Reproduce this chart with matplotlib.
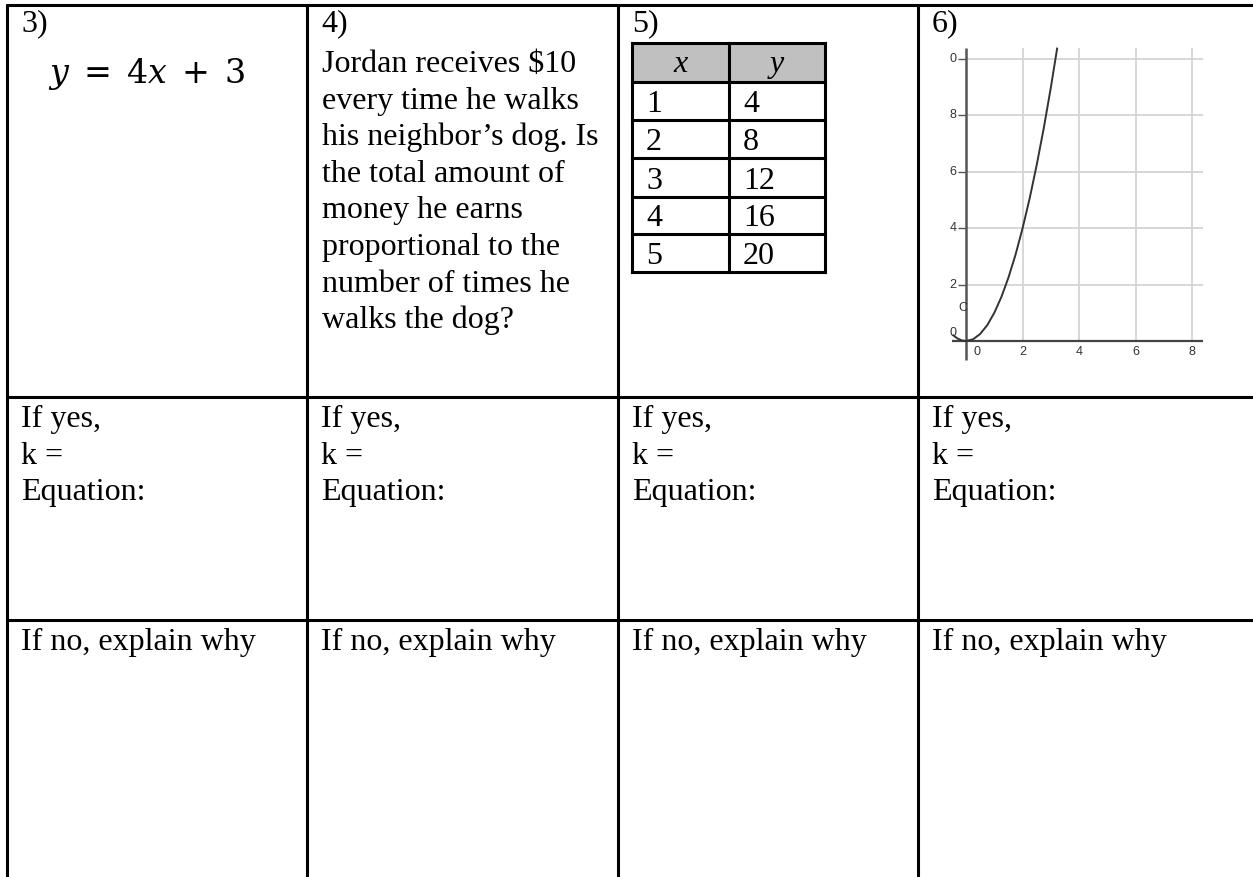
import matplotlib.pyplot as plt

plt.rcParams['font.family'] = ['Liberation Serif', 'DejaVu Serif']
plt.rcParams['mathtext.fontset'] = 'dejavuserif'

W, H = 1253, 877

# worksheet text
item_labels = ['3)', '4)', '5)', '6)']
equation = r'$y\;=\;4x\;+\;3$'
word_problem = [r'Jordan receives \$10', 'every time he walks', 'his neighbor’s dog. Is',
                'the total amount of', 'money he earns', 'proportional to the',
                'number of times he', 'walks the dog?']
yes_lines = ['If yes,', 'k =', 'Equation:']
no_line = 'If no, explain why'

# table in 5)
table_header = ['x', 'y']
table_x = [1, 2, 3, 4, 5]
table_y = [4, 8, 12, 16, 20]

# graph in 6)
curve_x = [-0.45, -0.3, -0.15, 0, 0.25, 0.5, 0.75, 1.0, 1.25, 1.5, 1.75, 2.0,
           2.25, 2.5, 2.75, 3.0, 3.22]
curve_y = [0.2, 0.09, 0.02, 0, 0.06, 0.25, 0.56, 1.0, 1.56, 2.25, 3.06, 4.0,
           5.06, 6.25, 7.56, 9.0, 10.37]
grid_x = [2, 4, 6, 8]
grid_y = [2, 4, 6, 8, 10]
xtick_labels = ['0', '2', '4', '6', '8']
ytick_labels = ['2', '4', '6', '8', '0']   # the "1" of 10 is cut off

fig = plt.figure(figsize=(W / 100, H / 100), dpi=100)
ax = fig.add_axes([0, 0, 1, 1])
ax.set_xlim(0, W)
ax.set_ylim(H, 0)
ax.axis('off')

col_x = [7, 307, 618, 918]
row_y = [5, 397, 620]
lw = 2.2
for x in col_x:
    ax.plot([x, x], [row_y[0] - 1, H], color='black', lw=lw, solid_capstyle='butt')
for y in row_y:
    ax.plot([col_x[0] - 1, W], [y, y], color='black', lw=lw, solid_capstyle='butt')

fs = 23
pad = 14
pitch = 36.6
for i, lab in enumerate(item_labels):
    ax.text(col_x[i] + pad, 31, lab, fontsize=fs, va='baseline')
    for j, s in enumerate(yes_lines):
        ax.text(col_x[i] + pad, 427 + j * pitch, s, fontsize=fs, va='baseline')
    ax.text(col_x[i] + pad, 650, no_line, fontsize=fs, va='baseline')

# 3)
ax.text(48, 83, equation, fontsize=24, va='baseline')

# 4)
for j, s in enumerate(word_problem):
    ax.text(col_x[1] + pad + 1, 72 + j * pitch, s, fontsize=fs, va='baseline')

# 5) table
tx = [632, 729, 825]
ty = [43, 82, 120, 158, 197, 234, 272]
ax.fill_between(tx[::2], ty[0], ty[1], color='#c0c0c0', lw=0)
for x in tx:
    ax.plot([x, x], [ty[0], ty[-1]], color='black', lw=lw, solid_capstyle='projecting')
for y in ty:
    ax.plot([tx[0], tx[-1]], [y, y], color='black', lw=lw, solid_capstyle='projecting')
ax.text((tx[0] + tx[1]) / 2, ty[1] - 10, table_header[0], fontsize=fs, style='italic',
        ha='center', va='baseline')
ax.text((tx[1] + tx[2]) / 2, ty[1] - 10, table_header[1], fontsize=fs, style='italic',
        ha='center', va='baseline')
for i, (a, b) in enumerate(zip(table_x, table_y)):
    yb = ty[i + 2] - 8
    ax.text(tx[0] + 14, yb, str(a), fontsize=fs, va='baseline')
    ax.text(tx[1] + 14, yb, str(b), fontsize=fs, va='baseline')

# 6) graph
ox, oy, ux, uy = 966, 341, 28.3, 28.2
L, R, T, B = 940, 1215, 40, 370
g = fig.add_axes([L / W, (H - B) / H, (R - L) / W, (B - T) / H])
g.set_xlim((L - ox) / ux, (R - ox) / ux)
g.set_ylim((oy - B) / uy, (oy - T) / uy)
g.axis('off')
top = (oy - 48) / uy
right = (1203 - ox) / ux
g.vlines(grid_x, 0, top, color='#d4d4d4', lw=1.3)
g.hlines(grid_y, 0, right, color='#d4d4d4', lw=1.3)
g.hlines(0, -0.5, right, color='#444444', lw=1.6)
g.vlines(0, -0.67, top, color='#555555', lw=1.8)
g.hlines(grid_y, -0.28, 0, color='#555555', lw=1.0)
g.plot(curve_x, curve_y, color='#333333', lw=1.4)
tick_font = dict(family='Liberation Sans', fontsize=9, color='#333333')
for v, s in zip(grid_y, ytick_labels):
    g.text(-0.33, v, s, ha='right', va='center', **tick_font)
g.text(0.39, -0.4, xtick_labels[0], ha='center', va='center', **tick_font)
for v, s in zip(grid_x, xtick_labels[1:]):
    g.text(v, -0.4, s, ha='center', va='center', **tick_font)
g.text(-0.1, 1.17, 'C', ha='center', va='center', **tick_font)
g.text(-0.46, 0.3, '0', ha='center', va='center', **tick_font)

fig.savefig('out.png', dpi=100)
